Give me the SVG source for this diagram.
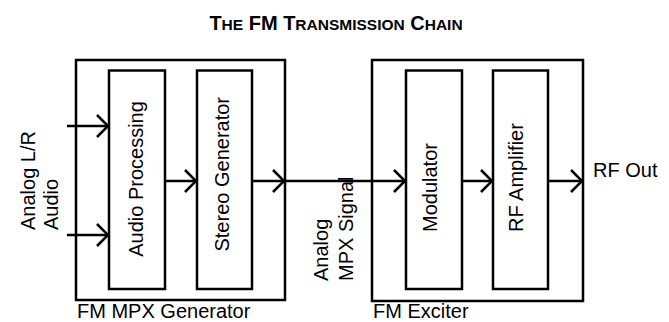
<svg xmlns="http://www.w3.org/2000/svg" width="669" height="322" viewBox="0 0 669 322">
  <defs>
    <style>
      .box { fill: #fff; stroke: #000; stroke-width: 2.5; }
      .wire { fill: none; stroke: #000; stroke-width: 2.5; }
      .lbl { font-family: "Liberation Sans", Arial, sans-serif; font-size: 20px; fill: #000; }
      .title { font-family: "Liberation Sans", Arial, sans-serif; font-weight: bold; fill: #000; }
      .big { font-size: 20px; }
      .sc { font-size: 15.5px; }
    </style>
    <!-- open chevron arrowhead -->
    <marker id="arrow" markerUnits="userSpaceOnUse" markerWidth="16" markerHeight="28" viewBox="-14 -14 16 28" refX="0" refY="0" orient="auto">
      <path d="M-11,-11 L0,0 L-11,11" fill="none" stroke="#000" stroke-width="2.5" stroke-linejoin="miter"/>
    </marker>
  </defs>

  <rect width="669" height="322" fill="#fff"/>

  <!-- title in small caps -->
  <text class="title" x="336" y="30" text-anchor="middle"><tspan class="big">T</tspan><tspan class="sc">HE</tspan><tspan class="big"> FM T</tspan><tspan class="sc">RANSMISSION</tspan><tspan class="big"> C</tspan><tspan class="sc">HAIN</tspan></text>

  <!-- FM MPX generator -->
  <g id="mpx-generator">
    <rect class="box" x="76" y="60" width="209" height="240"/>
    <text class="lbl" x="77" y="318">FM MPX Generator</text>
  </g>
  <g id="audio-processing">
    <rect class="box" x="109" y="70.5" width="56" height="218.5"/>
    <text class="lbl" transform="translate(143,179) rotate(-90)" text-anchor="middle">Audio Processing</text>
  </g>
  <g id="stereo-generator">
    <rect class="box" x="197" y="70.5" width="55" height="218.5"/>
    <text class="lbl" transform="translate(229,97) rotate(-90)" text-anchor="end">Stereo Generator</text>
  </g>

  <!-- FM exciter -->
  <g id="fm-exciter">
    <rect class="box" x="372" y="60" width="211" height="241"/>
    <text class="lbl" x="373" y="318">FM Exciter</text>
  </g>
  <g id="modulator">
    <rect class="box" x="406" y="70.5" width="56" height="218.5"/>
    <text class="lbl" transform="translate(437,232) rotate(-90)">Modulator</text>
  </g>
  <g id="rf-amplifier">
    <rect class="box" x="493" y="70.5" width="55" height="218.5"/>
    <text class="lbl" transform="translate(523,232) rotate(-90)">RF Amplifier</text>
  </g>

  <!-- signal labels -->
  <g id="audio-input">
    <text class="lbl" transform="translate(35,230) rotate(-90)">Analog L/R</text>
    <text class="lbl" transform="translate(58,230) rotate(-90)">Audio</text>
  </g>
  <g id="mpx-signal">
    <text class="lbl" transform="translate(328,281) rotate(-90)">Analog</text>
    <text class="lbl" transform="translate(353,281) rotate(-90)">MPX Signal</text>
  </g>
  <g id="rf-out">
    <text class="lbl" x="593" y="177">RF Out</text>
  </g>

  <!-- connectors -->
  <g id="connectors">
    <line class="wire" x1="67" y1="126" x2="108" y2="126" marker-end="url(#arrow)"/>
    <line class="wire" x1="67" y1="235" x2="108" y2="235" marker-end="url(#arrow)"/>
    <line class="wire" x1="165" y1="181" x2="196" y2="181" marker-end="url(#arrow)"/>
    <line class="wire" x1="252" y1="181" x2="284" y2="181" marker-end="url(#arrow)"/>
    <line class="wire" x1="284" y1="181" x2="405" y2="181" marker-end="url(#arrow)"/>
    <line class="wire" x1="462" y1="181" x2="492" y2="181" marker-end="url(#arrow)"/>
    <line class="wire" x1="548" y1="181" x2="582" y2="181" marker-end="url(#arrow)"/>
  </g>
</svg>
